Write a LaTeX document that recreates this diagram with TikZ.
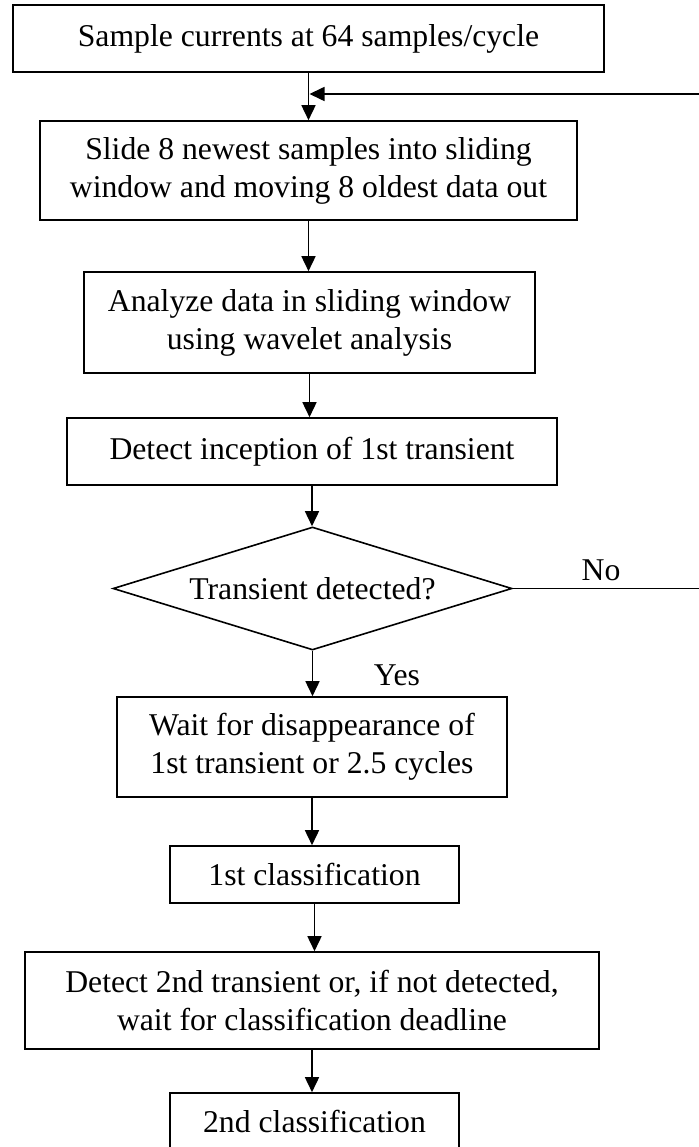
\documentclass[tikz,border=0pt]{standalone}
\usepackage{fontspec}
\setmainfont{Liberation Serif}
\usetikzlibrary{arrows.meta,shapes.geometric,calc}
\begin{document}
\begin{tikzpicture}[x=1pt,y=-1pt,
  line width=1.6pt,
  box/.style={draw, rectangle, inner sep=0pt, align=center,
    font=\fontsize{31.7}{38}\selectfont},
  dec/.style={draw, diamond, aspect=3.24, inner sep=0pt,
    minimum width=399pt, minimum height=123pt,
    font=\fontsize{31.7}{38}\selectfont},
  lbl/.style={inner sep=0pt, font=\fontsize{31.7}{38}\selectfont},
  arr/.style={-{Triangle[length=15pt,width=14pt]}}]
\useasboundingbox (0,0) rectangle (698,1147);
\node[box, minimum width=591pt, minimum height=67pt] (b1) at (308.5,38.5)
  {Sample currents at 64 samples/cycle};
\node[box, minimum width=537pt, minimum height=99pt] (b2) at (308.5,170.5)
  {Slide 8 newest samples into sliding\\window and moving 8 oldest data out};
\node[box, minimum width=451pt, minimum height=101pt] (b3) at (309.5,322.5)
  {Analyze data in sliding window\\using wavelet analysis};
\node[box, minimum width=490pt, minimum height=67pt] (b4) at (312,451.5)
  {Detect inception of 1st transient};
\node[dec] (d) at (312.5,588.5) {Transient detected?};
\node[box, minimum width=390pt, minimum height=100pt] (b5) at (312,747)
  {Wait for disappearance of\\1st transient or 2.5 cycles};
\node[box, minimum width=289pt, minimum height=57pt] (b6) at (314.5,874.5)
  {1st classification};
\node[box, minimum width=574pt, minimum height=97pt] (b7) at (312,1000.5)
  {Detect 2nd transient or, if not detected,\\wait for classification deadline};
\node[box, minimum width=289pt, minimum height=57pt] (b8) at (314.5,1121.5)
  {2nd classification};
\node[lbl] (no) at (601,570) {No};
\node[lbl] (yes) at (397,675) {Yes};
\coordinate (rt) at (699.8,94);
\draw[arr] (b1.south) -- (b1.south |- b2.north);
\draw[arr] (b2.south) -- (b2.south |- b3.north);
\draw[arr] (b3.south) -- (b3.south |- b4.north);
\draw[arr] (b4.south) -- (b4.south |- d.north);
\draw[arr] (d.south) -- (d.south |- b5.north);
\draw[arr] (b5.south) -- (b5.south |- b6.north);
\draw[arr] (b6.south) -- (b6.south |- b7.north);
\draw[arr] (b7.south) -- (b7.south |- b8.north);
\draw[arr] (d.east) -- (d.east -| rt) -- (rt) -- ($(b1.south |- rt)+(1pt,0)$);
\end{tikzpicture}
\end{document}
